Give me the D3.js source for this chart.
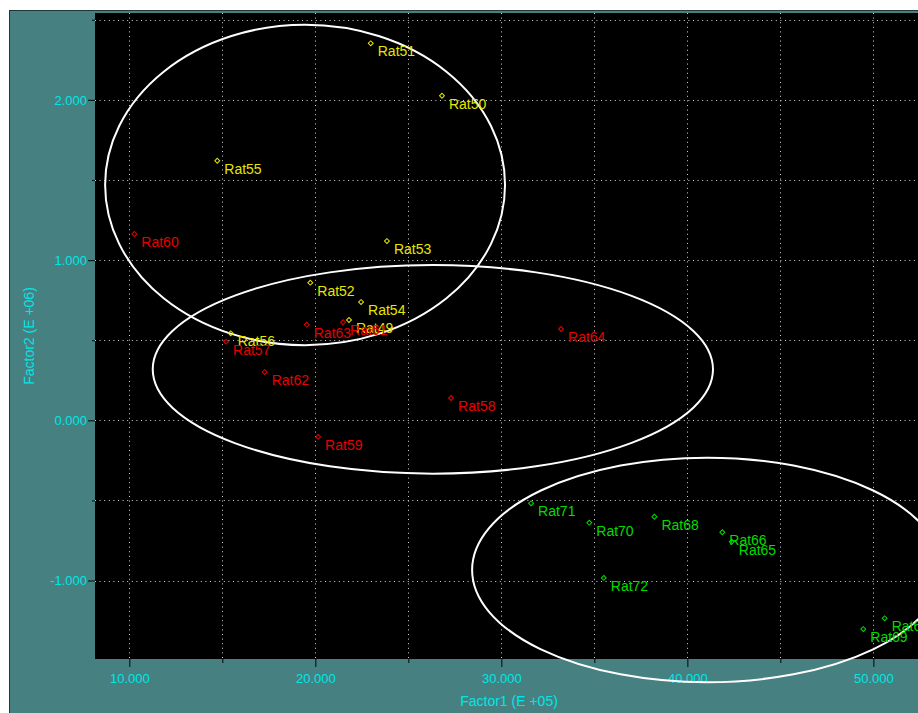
<!DOCTYPE html>
<html>
<head>
<meta charset="utf-8">
<script src="https://cdn.jsdelivr.net/npm/d3@7"></script>
<style>
  html, body { margin: 0; padding: 0; background: #ffffff; overflow: hidden; }
  svg { display: block; font-family: "Liberation Sans", Arial, sans-serif; }
</style>
</head>
<body>
<svg id="chart" width="918" height="713"></svg>
<script>
// Factor scores per animal (Factor1 in E+05, Factor2 in E+06), three groups
const yellowNames = ["Rat51", "Rat50", "Rat55", "Rat53", "Rat52", "Rat54", "Rat49", "Rat56"];
const yellowF1 = [22.98, 26.81, 14.73, 23.85, 19.73, 22.46, 21.81, 15.45];
const yellowF2 = [2.353, 2.026, 1.620, 1.119, 0.859, 0.738, 0.626, 0.543];

const redNames = ["Rat60", "Rat57", "Rat62", "Rat63", "Rat61", "Rat64", "Rat58", "Rat59"];
const redF1 = [10.27, 15.20, 17.28, 19.54, 21.49, 33.21, 27.30, 20.15];
const redF2 = [1.163, 0.491, 0.301, 0.597, 0.612, 0.570, 0.139, -0.104];

const greenNames = ["Rat71", "Rat70", "Rat68", "Rat66", "Rat65", "Rat72", "Rat69", "Rat67"];
const greenF1 = [31.60, 34.73, 38.23, 41.88, 42.39, 35.51, 49.46, 50.61];
const greenF2 = [-0.518, -0.639, -0.602, -0.699, -0.758, -0.984, -1.303, -1.236];

// Group ellipses: centre (Factor1, Factor2) and semi-axes in data units
const ellipseCx = [19.45, 26.32, 41.06];
const ellipseCy = [1.469, 0.318, -0.934];
const ellipseRx = [10.75, 15.06, 12.63];
const ellipseRy = [1.000, 0.651, 0.701];

// Axis ticks
const xMajorTicks = [10, 20, 30, 40, 50];
const xMinorTicks = [15, 25, 35, 45];
const yMajorTicks = [-1, 0, 1, 2];
const yMinorTicks = [-0.5, 0.5, 1.5, 2.5];
const xTitle = "Factor1 (E +05)";
const yTitle = "Factor2 (E +06)";

const svg = d3.select("#chart");
const plot = { left: 95, top: 13, right: 923, bottom: 659 };

const x = d3.scaleLinear().domain([8.156, 52.67]).range([plot.left, plot.right]);
const y = d3.scaleLinear().domain([-1.490, 2.5424]).range([plot.bottom, plot.top]);

const fmt = d3.formatLocale({ decimal: ".", thousands: ",", grouping: [3], currency: ["", ""], minus: "-" }).format(".3f");

const teal = "#468080";
const cyan = "#00e6e6";
const tickDark = "#0c1c1c";

// Panel background
svg.append("rect")
  .attr("x", 9.5).attr("y", 10.5)
  .attr("width", 930).attr("height", 720)
  .attr("fill", teal).attr("stroke", "#1e3838").attr("stroke-width", 1);

// Plot area
svg.append("rect")
  .attr("x", plot.left).attr("y", plot.top)
  .attr("width", plot.right - plot.left).attr("height", plot.bottom - plot.top)
  .attr("fill", "#000000");

// Dotted grid
const gridX = xMajorTicks.concat(xMinorTicks);
const gridY = yMajorTicks.concat(yMinorTicks);
const grid = svg.append("g")
  .attr("stroke", "#d4d4d4").attr("stroke-width", 1).attr("stroke-dasharray", "1,3.6");
grid.selectAll("line.gx").data(gridX).join("line").attr("class", "gx")
  .attr("x1", d => Math.round(x(d)) + 0.5).attr("x2", d => Math.round(x(d)) + 0.5)
  .attr("y1", plot.top).attr("y2", plot.bottom);
grid.selectAll("line.gy").data(gridY).join("line").attr("class", "gy")
  .attr("y1", d => Math.round(y(d)) + 0.5).attr("y2", d => Math.round(y(d)) + 0.5)
  .attr("x1", plot.left).attr("x2", plot.right);

// X axis: major and minor ticks below the plot
const xAxis = svg.append("g").attr("transform", `translate(0,${plot.bottom})`)
  .call(d3.axisBottom(x).tickValues(xMajorTicks).tickFormat(fmt).tickSize(8).tickPadding(7));
svg.append("g").attr("transform", `translate(0,${plot.bottom})`)
  .call(d3.axisBottom(x).tickValues(xMinorTicks).tickFormat("").tickSize(4));

// Y axis: major and minor ticks left of the plot
const yAxis = svg.append("g").attr("transform", `translate(${plot.left},0)`)
  .call(d3.axisLeft(y).tickValues(yMajorTicks).tickFormat(fmt).tickSize(7).tickPadding(1));
svg.append("g").attr("transform", `translate(${plot.left},0)`)
  .call(d3.axisLeft(y).tickValues(yMinorTicks).tickFormat("").tickSize(3));

svg.selectAll(".domain").remove();
svg.selectAll(".tick line").attr("stroke", tickDark).attr("stroke-width", 1.2);
svg.selectAll(".tick text").attr("fill", cyan).attr("font-size", 13)
  .attr("font-family", "'Liberation Sans', Arial, sans-serif");

// Axis titles
svg.append("text")
  .attr("x", (plot.left + plot.right) / 2).attr("y", 706)
  .attr("text-anchor", "middle").attr("fill", cyan).attr("font-size", 14)
  .text(xTitle);
svg.append("text")
  .attr("transform", `translate(34,${(plot.top + plot.bottom) / 2}) rotate(-90)`)
  .attr("text-anchor", "middle").attr("fill", cyan).attr("font-size", 14)
  .text(yTitle);

// Group ellipses
svg.append("g").selectAll("ellipse")
  .data(d3.range(ellipseCx.length)).join("ellipse")
  .attr("cx", i => x(ellipseCx[i]))
  .attr("cy", i => y(ellipseCy[i]))
  .attr("rx", i => x(ellipseCx[i] + ellipseRx[i]) - x(ellipseCx[i]))
  .attr("ry", i => y(ellipseCy[i]) - y(ellipseCy[i] + ellipseRy[i]))
  .attr("fill", "none").attr("stroke", "#ffffff").attr("stroke-width", 2);

// Points with labels
const groups = [
  { names: yellowNames, f1: yellowF1, f2: yellowF2, color: "#e6e600" },
  { names: redNames, f1: redF1, f2: redF2, color: "#e60000" },
  { names: greenNames, f1: greenF1, f2: greenF2, color: "#00dc00" }
];
const marker = d3.symbol().type(d3.symbolSquare).size(12);

groups.forEach(gr => {
  const g = svg.append("g");
  const rows = gr.names.map((n, i) => ({ name: n, a: gr.f1[i], b: gr.f2[i] }));
  g.selectAll("path").data(rows).join("path")
    .attr("d", marker)
    .attr("transform", d => `translate(${x(d.a)},${y(d.b)}) rotate(45)`)
    .attr("fill", "none").attr("stroke", gr.color).attr("stroke-width", 1);
  g.selectAll("text").data(rows).join("text")
    .attr("x", d => x(d.a) + 7)
    .attr("y", d => y(d.b) + 13)
    .attr("fill", gr.color).attr("font-size", 14)
    .text(d => d.name);
});
</script>
</body>
</html>
